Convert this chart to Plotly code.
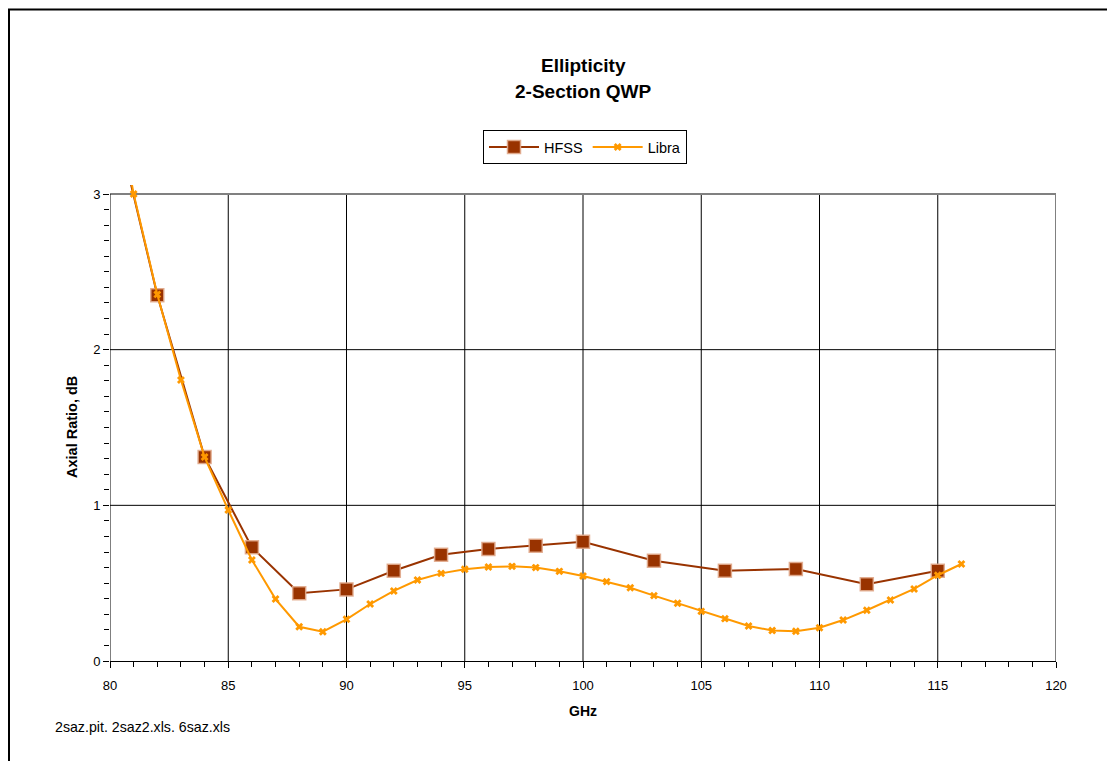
import plotly.graph_objects as go

# ---- data ----
hfss_ghz = [80, 82, 84, 86, 88, 90, 92, 94, 96, 98, 100, 103, 106, 109, 112, 115]
hfss_ar = [3.63, 2.35, 1.31, 0.73, 0.435, 0.46, 0.58, 0.683, 0.72, 0.741, 0.766,
           0.644, 0.58, 0.591, 0.493, 0.58]

libra_ghz = list(range(80, 117))
libra_ar = [3.83, 3.0, 2.355, 1.805, 1.31, 0.97, 0.649, 0.398, 0.22, 0.188,
            0.268, 0.366, 0.45, 0.52, 0.563, 0.589, 0.604, 0.608, 0.6, 0.576,
            0.546, 0.51, 0.471, 0.42, 0.371, 0.319, 0.272, 0.225, 0.196, 0.191,
            0.214, 0.263, 0.326, 0.392, 0.463, 0.551, 0.623]

x_ticks = [80, 85, 90, 95, 100, 105, 110, 115, 120]
y_ticks = [0, 1, 2, 3]

title_lines = ["Ellipticity", "2-Section QWP"]
x_title = "GHz"
y_title = "Axial Ratio, dB"
footnote = "2saz.pit. 2saz2.xls. 6saz.xls"

FONT = "Liberation Sans, Arial, sans-serif"
OFF = 8                      # page body margin
W, H = 1115 - OFF, 761 - OFF
PL, PR, PT, PB = 110, 1056, 185, 661   # plot area in page pixels
L, T = PL - OFF, PT - OFF
R = W - (PR - OFF)
B = H - (PB - OFF)
plot_w = PR - PL
plot_h = PB - PT
Y_MAX = 3 + (194 - 185) / 155.67

def px_x(px):   # page pixel -> paper x
    return (px - PL) / plot_w

def px_y(py):   # page pixel -> paper y
    return (PB - py) / plot_h

fig = go.Figure()
fig.add_trace(go.Scatter(
    x=hfss_ghz, y=hfss_ar, name="HFSS", mode="lines+markers",
    line=dict(color="#993300", width=2),
    marker=dict(symbol="square", size=13, color="#993300",
                line=dict(color="rgba(225,170,140,0.9)", width=1.5)),
))
fig.add_trace(go.Scatter(
    x=libra_ghz, y=libra_ar, name="Libra", mode="lines+markers",
    line=dict(color="#FF9900", width=2),
    marker=dict(symbol="x", size=7, color="#FF9900", line=dict(width=0)),
))

shapes = []
for xv in x_ticks[1:-1]:
    shapes.append(dict(type="line", xref="x", yref="y", x0=xv, x1=xv, y0=0, y1=3,
                       line=dict(color="black", width=1), layer="below"))
for yv in y_ticks[1:-1]:
    shapes.append(dict(type="line", xref="x", yref="y", x0=80, x1=120, y0=yv, y1=yv,
                       line=dict(color="black", width=1), layer="below"))
shapes.append(dict(type="line", xref="x", yref="y", x0=80, x1=120, y0=3, y1=3,
                   line=dict(color="#808080", width=2), layer="below"))
shapes.append(dict(type="line", xref="x", yref="y", x0=120, x1=120, y0=0, y1=3,
                   line=dict(color="#808080", width=2), layer="below"))
shapes.append(dict(type="line", xref="x", yref="y", x0=80, x1=80, y0=0, y1=3,
                   line=dict(color="black", width=1), layer="above"))
shapes.append(dict(type="rect", xref="paper", yref="paper",
                   x0=px_x(9), x1=px_x(1140), y0=px_y(790), y1=px_y(9.5),
                   line=dict(color="black", width=2), fillcolor="rgba(0,0,0,0)"))

annotations = [
    dict(text="<b>%s</b>" % title_lines[0], xref="paper", yref="paper",
         x=px_x(583), y=px_y(65), showarrow=False, xanchor="center", yanchor="middle",
         font=dict(size=19, color="black")),
    dict(text="<b>%s</b>" % title_lines[1], xref="paper", yref="paper",
         x=px_x(583), y=px_y(91), showarrow=False, xanchor="center", yanchor="middle",
         font=dict(size=19, color="black")),
    dict(text="<b>%s</b>" % x_title, xref="paper", yref="paper",
         x=px_x(583), y=px_y(711), showarrow=False,
         xanchor="center", yanchor="middle", font=dict(size=14, color="black")),
    dict(text="<b>%s</b>" % y_title, xref="paper", yref="paper",
         x=px_x(72), y=px_y(427), showarrow=False, textangle=-90,
         xanchor="center", yanchor="middle", font=dict(size=14.5, color="black")),
    dict(text=footnote, xref="paper", yref="paper",
         x=px_x(53), y=px_y(727), showarrow=False,
         xanchor="left", yanchor="middle", font=dict(size=14.2, color="black")),
]

fig.update_layout(
    width=W, height=H,
    margin=dict(l=L, r=R, t=T, b=B, pad=0),
    paper_bgcolor="white", plot_bgcolor="white",
    font=dict(family=FONT, color="black", size=13),
    legend=dict(orientation="h", x=px_x(585), xanchor="center",
                y=px_y(130), yanchor="top", itemwidth=50,
                bordercolor="black", borderwidth=1, bgcolor="white",
                font=dict(size=14.5, color="black")),
    showlegend=True,
    shapes=shapes,
    annotations=annotations,
    xaxis=dict(range=[80, 120], tickvals=x_ticks, showgrid=False, zeroline=False,
               showline=True, linecolor="black", linewidth=1,
               ticks="outside", ticklen=6, tickcolor="black", tickwidth=1,
               ticklabelstandoff=6, tickfont=dict(size=13),
               minor=dict(dtick=1, ticks="outside", ticklen=5, tickcolor="black",
                          tickwidth=1, showgrid=False)),
    yaxis=dict(range=[0, Y_MAX], tickvals=y_ticks, showgrid=False, zeroline=False,
               showline=False,
               ticks="outside", ticklen=6, tickcolor="black", tickwidth=1,
               ticklabelstandoff=0, tickfont=dict(size=13),
               minor=dict(tick0=0, dtick=0.1, ticks="outside", ticklen=5,
                          tickcolor="black", tickwidth=1, showgrid=False)),
)

fig.write_html("out.html")
